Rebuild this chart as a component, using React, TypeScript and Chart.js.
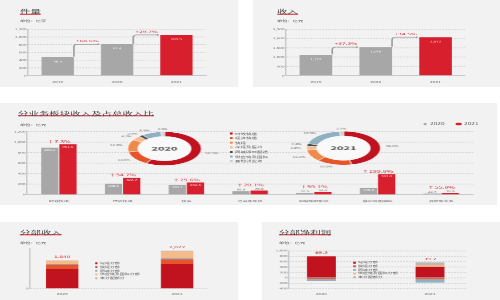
import React, { useEffect, useRef } from 'react';
import { Chart, registerables } from 'chart.js';

Chart.register(...registerables);

// The reference is horizontally stretched: draw in a design space and scale it.
const SXF = 0.55;
const SYF = 0.25;
const DW = 500 / SXF;
const DH = 300 / SYF;
const dx = (v: number) => v / SXF;
const dy = (v: number) => v / SYF;

const FONT = "'Noto Sans CJK SC', 'Noto Sans', 'DejaVu Sans', sans-serif";
Chart.defaults.font.family = FONT;

const PANEL = '#f2f2f2';
const RED = '#d81f2d';
const GRAY = '#a7a7a7';
const GRID = '#d0d0d0';
const AXIS = '#c3c8cc';
const TICK = '#646464';
const TEXT = '#3d3d3d';

// ---------- data ----------
const years3 = ['2019', '2020', '2021'];
const volume = [483, 814, 1055];
const volumeLabels = ['48.3', '81.4', '105.5'];
const volumeGrowth = ['+68.5%', '+29.7%'];
const revenue = [1122, 1540, 2072];
const revenueLabels = ['1,122', '1,540', '2,072'];
const revenueGrowth = ['+37.3%', '+34.5%'];

const segments = ['时效快递', '经济快递', '快运', '冷运及医药', '同城即时配送', '供应链及国际', '其他新业务'];
const seg2020 = [896.2, 208.6, 185.1, 65.0, 31.5, 130.8, 22.4];
const seg2021 = [961.6, 322.7, 232.5, 78.0, 50.0, 392.0, 35.0];
const segGrowth = ['7.3%', '54.7%', '25.6%', '20.1%', '59.1%', '199.8%', '55.8%'];
const share2020 = [58.2, 13.6, 12.0, 4.2, 2.0, 8.5, 1.5];
const share2021 = [46.4, 15.6, 11.2, 3.8, 2.4, 18.9, 1.7];
const segColors = ['#c1121f', '#e8542a', '#f08a4c', '#f6bb8c', '#4d4d4d', '#8fb1c2', '#c9c9c9'];

const divYears = [2020, 2021];
const divNames = ['速运分部', '快运分部', '同城分部', '供应链及国际分部', '未分配部分'];
const divColors = ['#c1121f', '#e8542a', '#8fb1c2', '#f6bb8c', '#b8b8b8'];
const revExpress = [1073, 1345];
const revFreight = [236, 255];
const revIntraCity = [36, 72];
const revSupply = [195, 364];
const revUnalloc = [0, 36];
const revTotals = ['1,540', '2,072'];
const profExpress = [790, 400];
const profFreight = [-35, -45];
const profIntraCity = [-72, -128];
const profSupply = [10, 65];
const profUnalloc = [0, 100];
const profTotals = ['69.3', '39.2'];

// ---------- layout helpers ----------
type R = { x: number; y: number; w: number; h: number };
type P = { l: number; t: number; r: number; b: number };

function frame(c: R, p: P, labelY: number, fontSize: number) {
  const W = dx(c.w);
  const H = dy(c.h);
  const yW = dx(p.l - c.x);
  const top = dy(p.t - c.y);
  const right = W - dx(p.r - c.x);
  const xH = H - dy(p.b - c.y);
  const tickPad = dy(labelY - p.b) - 0.6 * fontSize;
  return { padding: { left: 0, top, right, bottom: 0 }, yW, xH, tickPad };
}

function yAxis(min: number, max: number, step: number, yW: number, extra: any = {}) {
  return {
    min,
    max,
    ticks: { stepSize: step, font: { size: 8.5 }, color: TICK, padding: dx(1.5) },
    grid: { color: GRID, lineWidth: 3, drawTicks: false },
    border: { display: true, color: AXIS, width: 2.5, dash: [dx(1.6), dx(1.4)] },
    afterFit: (s: any) => {
      s.width = yW;
    },
    ...extra,
  };
}

const baseOptions = {
  animation: false,
  responsive: true,
  maintainAspectRatio: false,
  devicePixelRatio: SXF,
  locale: 'en-US',
};

// ---------- plugins ----------
function topPlugin(valueLabels: string[], growth: string[]) {
  return {
    id: 'topAnno',
    afterDatasetsDraw(chart: any) {
      const ctx = chart.ctx;
      const bars = chart.getDatasetMeta(0).data;
      ctx.save();
      ctx.textAlign = 'center';
      ctx.textBaseline = 'middle';
      ctx.fillStyle = '#ffffff';
      ctx.font = `8px ${FONT}`;
      bars.forEach((b: any, i: number) => ctx.fillText(valueLabels[i], b.x, b.y + dy(4.5)));
      for (let i = 0; i < bars.length - 1; i++) {
        const a = bars[i];
        const b = bars[i + 1];
        const x0 = a.x + a.width / 2;
        const y0 = a.y - dy(0.5);
        const y1 = b.y;
        const x1 = b.x - b.width / 2 - dx(2.5);
        ctx.strokeStyle = '#9c9c9c';
        ctx.lineWidth = 3;
        ctx.beginPath();
        ctx.moveTo(x0, y0);
        ctx.lineTo(x0, y1 + dy(3));
        ctx.quadraticCurveTo(x0, y1, x0 + dx(3), y1);
        ctx.lineTo(x1, y1);
        ctx.stroke();
        ctx.fillStyle = '#9c9c9c';
        ctx.beginPath();
        ctx.ellipse(x1, y1, dx(0.9), dy(0.9), 0, 0, Math.PI * 2);
        ctx.fill();
        ctx.fillStyle = RED;
        ctx.font = `12px ${FONT}`;
        ctx.textBaseline = 'alphabetic';
        ctx.fillText(growth[i], (x0 + b.x - b.width / 2) / 2, y1 - dy(2.2));
        ctx.textBaseline = 'middle';
      }
      ctx.restore();
    },
  };
}

const midPlugin = {
  id: 'midAnno',
  afterDatasetsDraw(chart: any) {
    const ctx = chart.ctx;
    const m0 = chart.getDatasetMeta(0).data;
    const m1 = chart.getDatasetMeta(1).data;
    const vals = [seg2020, seg2021];
    const tops: number[] = segments.map(() => Infinity);
    ctx.save();
    ctx.textAlign = 'center';
    [m0, m1].forEach((arr: any[], di: number) =>
      arr.forEach((b: any, i: number) => {
        const txt = vals[di][i].toFixed(1);
        const h = b.base - b.y;
        ctx.font = `8px ${FONT}`;
        if (h > dy(5)) {
          ctx.fillStyle = '#ffffff';
          ctx.textBaseline = 'middle';
          ctx.fillText(txt, b.x, b.y + dy(2.5));
          tops[i] = Math.min(tops[i], b.y);
        } else {
          ctx.fillStyle = '#555555';
          ctx.textBaseline = 'alphabetic';
          ctx.fillText(txt, b.x, b.y - dy(0.8));
          tops[i] = Math.min(tops[i], b.y - dy(0.8) - 8);
        }
      })
    );
    ctx.fillStyle = RED;
    ctx.font = `13px ${FONT}`;
    ctx.textBaseline = 'alphabetic';
    m1.forEach((b: any, i: number) => {
      const a = m0[i];
      ctx.fillText('↑' + segGrowth[i], (a.x + b.x) / 2, tops[i] - dy(1.3));
    });
    ctx.restore();
  },
};

function donutPlugin(shares: number[], center: string) {
  return {
    id: 'donutAnno',
    beforeDatasetsDraw(chart: any) {
      const arc = chart.getDatasetMeta(0).data[0];
      if (!arc) return;
      const ctx = chart.ctx;
      ctx.save();
      ctx.fillStyle = '#f9f9f9';
      ctx.beginPath();
      ctx.arc(arc.x, arc.y, arc.outerRadius, 0, Math.PI * 2);
      ctx.fill();
      ctx.restore();
    },
    afterDatasetsDraw(chart: any) {
      const ctx = chart.ctx;
      const arcs = chart.getDatasetMeta(0).data;
      const c = arcs[0];
      ctx.save();
      ctx.fillStyle = '#474747';
      ctx.font = `bold 20px ${FONT}`;
      ctx.textAlign = 'center';
      ctx.textBaseline = 'middle';
      ctx.fillText(center, c.x, c.y);
      ctx.font = `8px ${FONT}`;
      ctx.fillStyle = '#555555';
      arcs.forEach((a: any, i: number) => {
        const mid = (a.startAngle + a.endAngle) / 2;
        const r = a.outerRadius + 10;
        const cx = Math.cos(mid);
        const sy = Math.sin(mid);
        ctx.textAlign = Math.abs(cx) < 0.25 ? 'center' : cx > 0 ? 'left' : 'right';
        ctx.fillText(shares[i].toFixed(1) + '%', a.x + cx * r, a.y + sy * r);
      });
      ctx.restore();
    },
  };
}

function totalsPlugin(series: number[][], totals: string[]) {
  return {
    id: 'totals',
    afterDatasetsDraw(chart: any) {
      const ctx = chart.ctx;
      ctx.save();
      ctx.fillStyle = RED;
      ctx.font = `12px ${FONT}`;
      ctx.textAlign = 'center';
      ctx.textBaseline = 'alphabetic';
      divYears.forEach((_, i) => {
        let top = Infinity;
        let x = 0;
        series.forEach((s, k) => {
          const el = chart.getDatasetMeta(k).data[i];
          if (s[i] > 0 && el && el.y < top) {
            top = el.y;
            x = el.x;
          }
        });
        ctx.fillText(totals[i], x, top - dy(2.5));
      });
      ctx.restore();
    },
  };
}

// ---------- chart configs ----------
const tlCanvas: R = { x: 0, y: 22, w: 238, h: 65 };
const tlPlot: P = { l: 28, t: 29.3, r: 206, b: 75.7 };
const trCanvas: R = { x: 253, y: 22, w: 247, h: 65 };
const trPlot: P = { l: 286, t: 29.3, r: 465.5, b: 75.7 };
const midCanvas: R = { x: 0, y: 118, w: 497, h: 87 };
const midPlot: P = { l: 27, t: 131.7, r: 473, b: 194.5 };
const blCanvas: R = { x: 0, y: 240, w: 238, h: 59 };
const blPlot: P = { l: 30, t: 248.4, r: 208, b: 288.3 };
const brCanvas: R = { x: 262, y: 240, w: 238, h: 59 };
const brPlot: P = { l: 289, t: 250.7, r: 467, b: 288.3 };
const d20Canvas: R = { x: 164.5 - 65, y: 148.5 - 24, w: 130, h: 48 };
const d21Canvas: R = { x: 343.5 - 65, y: 148 - 24, w: 130, h: 48 };

function topConfig(values: number[], labels: string[], growth: string[], max: number, step: number, c: R, p: P) {
  const f = frame(c, p, 80, 9);
  return {
    type: 'bar',
    data: {
      labels: years3,
      datasets: [{ data: values, backgroundColor: [GRAY, GRAY, RED], barPercentage: 0.545, categoryPercentage: 1 }],
    },
    options: {
      ...baseOptions,
      layout: { padding: f.padding },
      plugins: { legend: { display: false }, tooltip: { enabled: false } },
      scales: {
        x: {
          grid: { display: false },
          border: { display: true, color: AXIS, width: 3 },
          ticks: { font: { size: 9 }, color: TICK, padding: f.tickPad },
          afterFit: (s: any) => {
            s.height = f.xH;
          },
        },
        y: yAxis(0, max, step, f.yW),
      },
    },
    plugins: [topPlugin(labels, growth)],
  };
}

function midConfig() {
  const f = frame(midCanvas, midPlot, 199, 9);
  return {
    type: 'bar',
    data: {
      labels: segments,
      datasets: [
        { label: '2020', data: seg2020, backgroundColor: GRAY, barPercentage: 0.95, categoryPercentage: 0.57 },
        { label: '2021', data: seg2021, backgroundColor: RED, barPercentage: 0.95, categoryPercentage: 0.57 },
      ],
    },
    options: {
      ...baseOptions,
      layout: { padding: f.padding },
      plugins: { legend: { display: false }, tooltip: { enabled: false } },
      scales: {
        x: {
          grid: { display: false },
          border: { display: true, color: AXIS, width: 3 },
          ticks: { font: { size: 9 }, color: '#555555', padding: f.tickPad },
          afterFit: (s: any) => {
            s.height = f.xH;
          },
        },
        y: yAxis(0, 1200, 200, f.yW),
      },
    },
    plugins: [midPlugin],
  };
}

function donutConfig(shares: number[], center: string) {
  return {
    type: 'doughnut',
    data: {
      labels: segments,
      datasets: [{ data: shares, backgroundColor: segColors, borderColor: '#ffffff', borderWidth: 1.5 }],
    },
    options: {
      ...baseOptions,
      cutout: '72%',
      layout: { padding: { top: 28, bottom: 28, left: 50, right: 50 } },
      plugins: { legend: { display: false }, tooltip: { enabled: false } },
    },
    plugins: [donutPlugin(shares, center)],
  };
}

function stackConfig(series: number[][], totals: string[], min: number, max: number, step: number, c: R, p: P, xMin: number, xMax: number, barW: number) {
  const f = frame(c, p, 291.7, 9);
  return {
    type: 'bar',
    data: {
      datasets: divNames.map((n, k) => ({
        label: n,
        data: divYears.map((yr, i) => ({ x: yr, y: series[k][i] })),
        backgroundColor: divColors[k],
        barThickness: dx(barW),
      })),
    },
    options: {
      ...baseOptions,
      layout: { padding: f.padding },
      plugins: { legend: { display: false }, tooltip: { enabled: false } },
      scales: {
        x: {
          type: 'linear',
          min: xMin,
          max: xMax,
          stacked: true,
          offset: false,
          grid: { display: false },
          border: { display: false },
          ticks: { font: { size: 9 }, color: TICK, padding: f.tickPad, callback: (v: any) => String(v) },
          afterBuildTicks: (s: any) => {
            s.ticks = divYears.map((v) => ({ value: v }));
          },
          afterFit: (s: any) => {
            s.height = f.xH;
          },
        },
        y: yAxis(min, max, step, f.yW, {
          stacked: true,
          afterBuildTicks: (s: any) => {
            s.ticks = s.ticks.filter((t: any) => Math.abs(t.value % step) < 1e-6);
          },
        }),
      },
    },
    plugins: [totalsPlugin(series, totals)],
  };
}

// ---------- components ----------
function ChartBox({ rect, config }: { rect: R; config: () => any }) {
  const ref = useRef<HTMLCanvasElement | null>(null);
  useEffect(() => {
    const chart = new Chart(ref.current as HTMLCanvasElement, config());
    return () => chart.destroy();
  }, []);
  return (
    <div style={{ position: 'absolute', left: dx(rect.x), top: dy(rect.y), width: dx(rect.w), height: dy(rect.h) }}>
      <canvas ref={ref} />
    </div>
  );
}

function Panel({ x, y, w, h }: R) {
  return <div style={{ position: 'absolute', left: dx(x), top: dy(y), width: dx(w), height: dy(h), background: PANEL }} />;
}

function Txt({ x, y, size, color = TEXT, weight = 400, children }: { x: number; y: number; size: number; color?: string; weight?: number; children: any }) {
  return (
    <div
      style={{
        position: 'absolute',
        left: dx(x),
        top: dy(y) - size * 0.6,
        fontSize: size,
        lineHeight: `${size * 1.2}px`,
        color,
        fontWeight: weight,
        whiteSpace: 'nowrap',
      }}
    >
      {children}
    </div>
  );
}

function Title({ x, y, text }: { x: number; y: number; text: string }) {
  return (
    <div
      style={{
        position: 'absolute',
        left: dx(x),
        top: dy(y) - 11,
        fontSize: 19,
        lineHeight: '22px',
        color: TEXT,
        whiteSpace: 'nowrap',
        borderBottom: `4px solid ${RED}`,
      }}
    >
      {text}
    </div>
  );
}

function LegendRows({ x, y, step, names, colors, size }: { x: number; y: number; step: number; names: string[]; colors: string[]; size: number }) {
  return (
    <>
      {names.map((n, i) => (
        <React.Fragment key={n}>
          <div
            style={{
              position: 'absolute',
              left: dx(x),
              top: dy(y + i * step - 1),
              width: dx(2.6),
              height: dy(2),
              background: colors[i],
            }}
          />
          <Txt x={x + 5} y={y + i * step} size={size} color="#555555">
            {n}
          </Txt>
        </React.Fragment>
      ))}
    </>
  );
}

export default function App() {
  useEffect(() => {
    document.body.style.margin = '0';
  }, []);
  const revSeries = [revExpress, revFreight, revIntraCity, revSupply, revUnalloc];
  const profSeries = [profExpress, profFreight, profIntraCity, profSupply, profUnalloc];
  return (
    <div style={{ position: 'fixed', left: 0, top: 0, width: 500, height: 300, overflow: 'hidden', background: '#ffffff' }}>
      <div
        style={{
          position: 'absolute',
          left: 0,
          top: 0,
          width: DW,
          height: DH,
          transform: `scale(${SXF}, ${SYF})`,
          transformOrigin: '0 0',
          fontFamily: FONT,
        }}
      >
        <Panel x={0} y={0} w={238} h={87} />
        <Panel x={253} y={0} w={247} h={87} />
        <Panel x={0} y={103} w={497} h={102} />
        <Panel x={0} y={222} w={238} h={78} />
        <Panel x={262} y={222} w={238} h={78} />

        <ChartBox rect={tlCanvas} config={() => topConfig(volume, volumeLabels, volumeGrowth, 1200, 200, tlCanvas, tlPlot)} />
        <ChartBox rect={trCanvas} config={() => topConfig(revenue, revenueLabels, revenueGrowth, 2500, 500, trCanvas, trPlot)} />
        <ChartBox rect={midCanvas} config={midConfig} />
        <ChartBox rect={d20Canvas} config={() => donutConfig(share2020, '2020')} />
        <ChartBox rect={d21Canvas} config={() => donutConfig(share2021, '2021')} />
        <ChartBox rect={blCanvas} config={() => stackConfig(revSeries, revTotals, 0, 2200, 500, blCanvas, blPlot, 2019.72, 2021.27, 32)} />
        <ChartBox rect={brCanvas} config={() => stackConfig(profSeries, profTotals, -400, 1000, 200, brCanvas, brPlot, 2019.7, 2021.34, 28.5)} />

        <Title x={20} y={11} text="件量" />
        <Txt x={20} y={21} size={9.5}>单位：亿票</Txt>
        <Title x={277} y={11} text="收入" />
        <Txt x={277} y={21} size={9.5}>单位：亿元</Txt>
        <Title x={18} y={112.5} text="分业务板块收入及占总收入比" />
        <Txt x={20} y={125} size={9.5}>单位：亿元</Txt>
        <Title x={20} y={231.5} text="分部收入" />
        <Txt x={20} y={243} size={9.5}>单位：亿元</Txt>
        <Title x={279} y={231.5} text="分部净利润" />
        <Txt x={279} y={243} size={9.5}>单位：亿元</Txt>

        <LegendRows x={230} y={133.5} step={4.6} names={segments} colors={segColors} size={10} />
        <LegendRows x={95} y={263.3} step={3.75} names={divNames} colors={divColors} size={9} />
        <LegendRows x={353} y={262.7} step={3.65} names={divNames} colors={divColors} size={9} />

        <div style={{ position: 'absolute', left: dx(423.5), top: dy(124) - 5, width: dx(3.5), height: 10, borderRadius: '50%', background: GRAY }} />
        <Txt x={430} y={124} size={12} color="#666666">2020</Txt>
        <div style={{ position: 'absolute', left: dx(455.5), top: dy(124) - 5, width: dx(6.5), height: 10, borderRadius: 5, background: RED }} />
        <Txt x={464} y={124} size={12} color="#666666">2021</Txt>
      </div>
    </div>
  );
}
